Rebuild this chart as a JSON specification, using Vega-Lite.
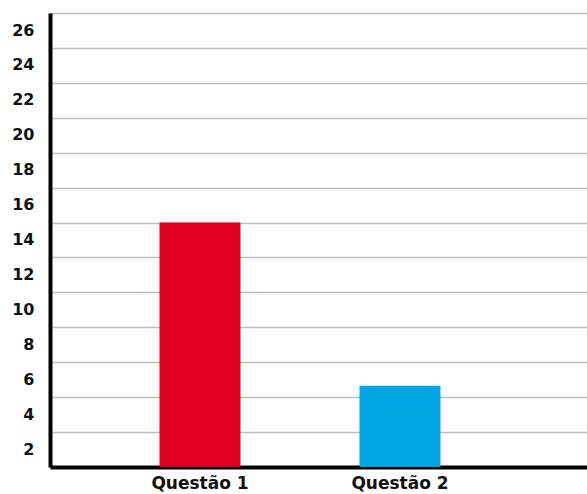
{
  "$schema": "https://vega.github.io/schema/vega-lite/v6.json",
  "width": 537,
  "height": 454,
  "autosize": {"type": "none"},
  "padding": {"left": 50, "top": 13, "right": 0, "bottom": 27},
  "background": "white",
  "config": {"view": {"stroke": null}, "font": "DejaVu Sans"},
  "data": {
    "values": [
      {"questao": "Questão 1", "valor": 14, "cor": "#e1001f"},
      {"questao": "Questão 2", "valor": 4.65, "cor": "#00a5e3"}
    ]
  },
  "mark": {"type": "bar"},
  "encoding": {
    "x": {
      "field": "questao",
      "type": "nominal",
      "sort": null,
      "scale": {"paddingInner": 0.595, "paddingOuter": 0.64, "align": 0.4277},
      "axis": {
        "title": null,
        "labelAngle": 0,
        "labelFont": "DejaVu Sans",
        "labelFontSize": 17,
        "labelFontWeight": "bold",
        "labelColor": "#111111",
        "labelPadding": 8,
        "ticks": false,
        "domainColor": "#000000",
        "domainWidth": 4
      }
    },
    "y": {
      "field": "valor",
      "type": "quantitative",
      "scale": {"domain": [0, 26], "nice": false},
      "axis": {
        "title": null,
        "values": [2, 4, 6, 8, 10, 12, 14, 16, 18, 20, 22, 24, 26],
        "labelOffset": 17,
        "labelFont": "DejaVu Sans",
        "labelFontSize": 16,
        "labelFontWeight": "bold",
        "labelColor": "#111111",
        "labelPadding": 16,
        "ticks": false,
        "domainColor": "#000000",
        "domainWidth": 4,
        "grid": true,
        "gridColor": "#bdbdbd",
        "gridWidth": 1.5
      }
    },
    "color": {"field": "cor", "type": "nominal", "scale": null, "legend": null}
  }
}
